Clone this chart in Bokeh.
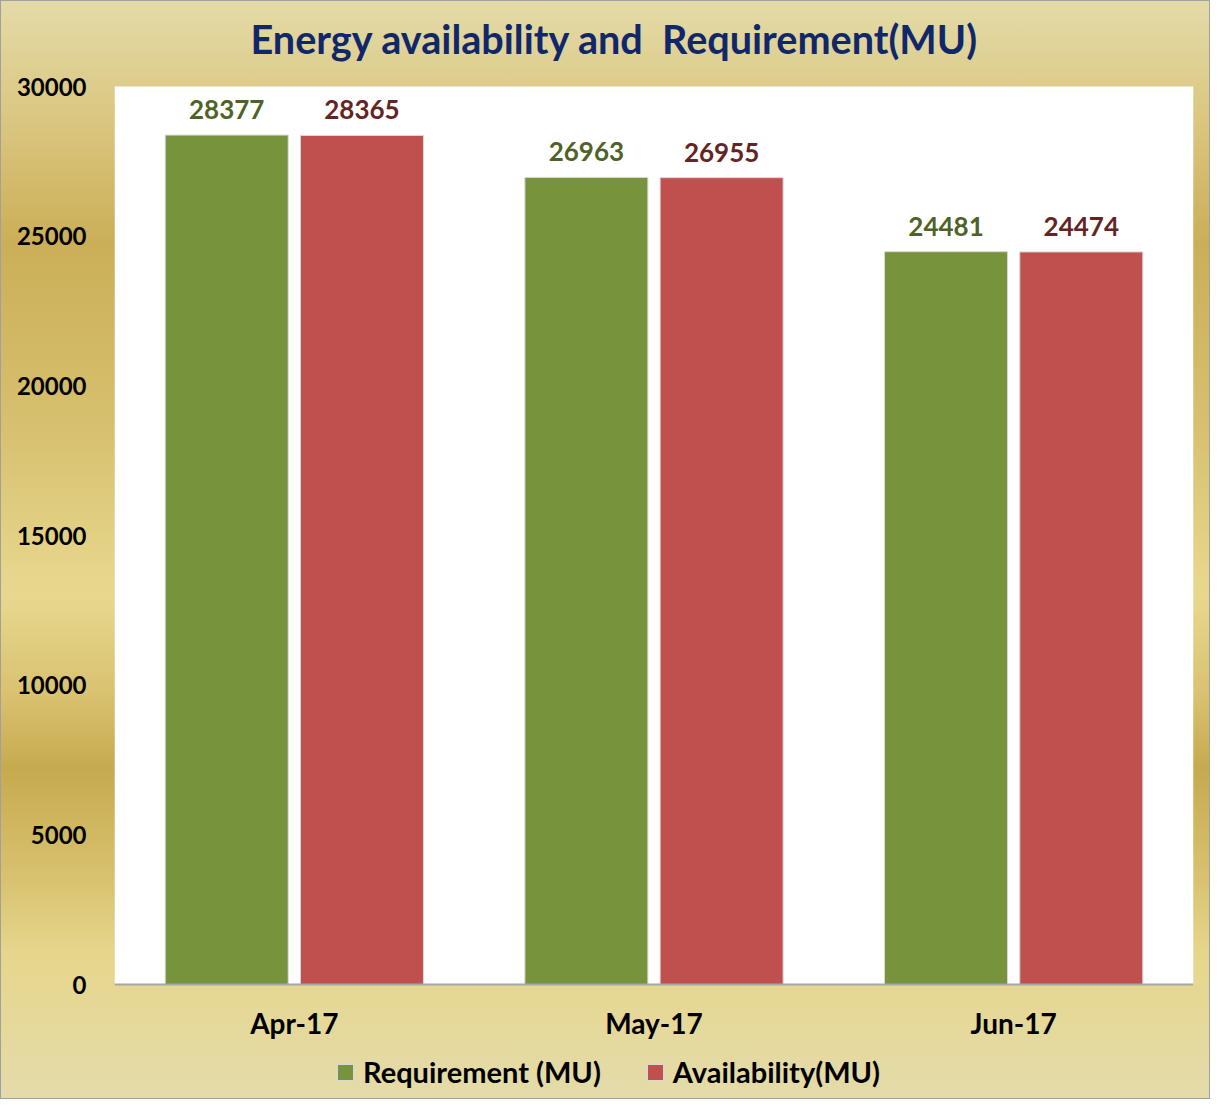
from bokeh.plotting import figure
from bokeh.models import ColumnDataSource, Legend, LegendItem, FactorRange, NumeralTickFormatter, BoxAnnotation
from bokeh.transform import dodge
from bokeh.core.properties import value
from bokeh.embed import file_html
from bokeh.resources import INLINE

months = ["Apr-17", "May-17", "Jun-17"]
requirement = [28377, 26963, 24481]
availability = [28365, 26955, 24474]
y_ticks = [0, 5000, 10000, 15000, 20000, 25000, 30000]
y_max = 30000

FONT = "Lato"
GREEN = "#77933C"
RED = "#C0504D"

src = ColumnDataSource(dict(
    month=months,
    req=requirement,
    avl=availability,
    req_lbl=[str(v) for v in requirement],
    avl_lbl=[str(v) for v in availability],
))

# pixel layout: the frame extends above and below the white plot area
FRAME_TOP, TOP_Y, AXIS_Y, FRAME_BOTTOM = 65, 85, 983, 1090
px_per_unit = (AXIS_Y - TOP_Y) / y_max
y_lo = -(FRAME_BOTTOM - AXIS_Y) / px_per_unit
y_hi = y_max + (TOP_Y - FRAME_TOP) / px_per_unit

p = figure(
    x_range=FactorRange(*months), y_range=(y_lo, y_hi),
    width=1210, height=1099,
    output_backend="svg", toolbar_location=None,
    min_border_left=113, min_border_right=18,
    min_border_top=FRAME_TOP, min_border_bottom=1099 - FRAME_BOTTOM,
    title="Energy availability and\u00a0 Requirement(MU)",
)
p.styles = {
    "background": "linear-gradient(to bottom, #E4DBA8 0%, #D9C47C 12%, #CBAF58 22%, #D6BF6E 38%, #E8D88E 54%, #D9C271 63%, #C7AA4F 70%, #D8C270 80%, #E6D68C 87%, #E4DBAA 100%)",
    "border": "1px solid #A0A0A0",
    "box-sizing": "border-box",
}
p.border_fill_alpha = 0
p.background_fill_alpha = 0
p.outline_line_color = None

plot_area = BoxAnnotation(bottom=0, top=y_max, fill_color="white", fill_alpha=1,
                          line_color=None, level="underlay")
p.add_layout(plot_area)

p.title.align = "left"
p.title.offset = 136
p.title.text_font = FONT
p.title.text_font_style = "bold"
p.title.text_font_size = "39.6px"
p.title.text_color = "#10286A"
p.title.standoff = 10

w = 0.342
off = 0.188
r1 = p.vbar(x=dodge("month", -off, range=p.x_range), top="req", width=w, source=src,
            fill_color=GREEN, line_color="#D8D8D8", line_width=1)
r2 = p.vbar(x=dodge("month", off, range=p.x_range), top="avl", width=w, source=src,
            fill_color=RED, line_color="#D8D8D8", line_width=1)

p.text(x=dodge("month", -off, range=p.x_range), y="req", text="req_lbl", source=src,
       text_align="center", text_baseline="bottom", y_offset=-16,
       text_font=value(FONT), text_font_style="bold", text_font_size="26px", text_color="#4F6228")
p.text(x=dodge("month", off, range=p.x_range), y="avl", text="avl_lbl", source=src,
       text_align="center", text_baseline="bottom", y_offset=-16,
       text_font=value(FONT), text_font_style="bold", text_font_size="26px", text_color="#632523")

p.xgrid.grid_line_color = None
p.ygrid.grid_line_color = None
p.x_range.range_padding = 0
p.x_range.group_padding = 0

p.yaxis.ticker = y_ticks
p.yaxis.formatter = NumeralTickFormatter(format="0")
p.yaxis.axis_line_color = None
p.yaxis.major_tick_line_color = None
p.yaxis.minor_tick_line_color = None
p.yaxis.major_label_text_font = FONT
p.yaxis.major_label_text_font_style = "bold"
p.yaxis.major_label_text_font_size = "24px"
p.yaxis.major_label_text_color = "black"
p.yaxis.major_label_standoff = 22

p.xaxis.fixed_location = 0
p.xaxis.axis_line_color = "#A6A6A6"
p.xaxis.axis_line_width = 2
p.xaxis.major_tick_line_color = None
p.xaxis.minor_tick_line_color = None
p.xaxis.major_label_text_font = FONT
p.xaxis.major_label_text_font_style = "bold"
p.xaxis.major_label_text_font_size = "28px"
p.xaxis.major_label_text_color = "black"
p.xaxis.major_label_standoff = 15

legend = Legend(items=[LegendItem(label="Requirement (MU)", renderers=[r1]),
                       LegendItem(label="Availability(MU)", renderers=[r2])],
                orientation="horizontal", location=(221, 2))
legend.background_fill_alpha = 0
legend.border_line_color = None
legend.label_text_font = FONT
legend.label_text_font_style = "bold"
legend.label_text_font_size = "29px"
legend.label_text_color = "black"
legend.label_standoff = 8
legend.glyph_width = 20
legend.glyph_height = 20
legend.spacing = 44
legend.padding = 0
legend.margin = 0
p.add_layout(legend, "center")

open("out.html", "w").write(file_html(p, INLINE))
